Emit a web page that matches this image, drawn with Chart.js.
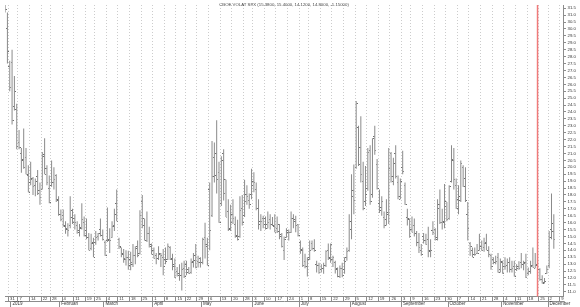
<!DOCTYPE html>
<html>
<head>
<meta charset="utf-8">
<script src="https://cdn.jsdelivr.net/npm/chart.js@4.4.1/dist/chart.umd.min.js"></script>
<style>
html, body { margin: 0; padding: 0; background: #fff; }
#wrap { width: 580px; height: 307px; position: relative; }
</style>
</head>
<body>
<div id="wrap"><canvas id="chart"></canvas></div>
<script>
// daily bars, index 0 = 2 Jan 2019 (first bar is 27 Dec 2018)
var firstIdx = -3

var opens = [
33.0, 30.0, 27.3, 27.6, 24.4, 24.2, 21.8, 21.0, 20.6, 20.7,
19.4, 18.9, 19.2, 18.7, 19.3, 18.3, 18.4, 20.9, 19.9, 18.5,
18.7, 18.9, 19.4, 17.6, 16.6, 16.5, 15.7, 15.5, 15.8, 16.9,
16.3, 15.8, 15.3, 15.6, 16.0, 15.4, 14.9, 14.1, 14.6, 14.6,
15.0, 15.5, 15.1, 14.6, 14.7, 14.8, 14.9, 15.8, 17.4, 14.8,
14.2, 13.7, 13.3, 13.5, 13.3, 13.0, 13.6, 14.3, 13.8, 17.5,
15.8, 14.7, 15.2, 14.3, 14.0, 13.6, 13.4, 13.8, 13.5, 13.3,
13.3, 14.2, 13.4, 12.8, 12.5, 12.2, 12.2, 12.7, 13.0, 12.6,
12.4, 13.2, 13.6, 13.2, 13.4, 13.1, 14.9, 14.3, 18.4, 16.5,
20.7, 21.0, 19.6, 17.4, 21.0, 19.1, 16.8, 15.6, 16.6, 15.9,
15.1, 15.0, 17.0, 16.5, 18.0, 17.6, 18.0, 19.0, 18.4, 17.0,
16.1, 16.3, 15.9, 15.6, 16.2, 15.9, 15.7, 15.6, 15.9, 15.0,
14.0, 14.9, 15.3, 15.3, 16.3, 16.1, 15.9, 14.6, 14.0, 13.2,
12.8, 13.5, 14.5, 14.1, 13.0, 12.9, 12.6, 12.7, 12.9, 14.0,
13.4, 13.3, 13.1, 12.7, 12.1, 12.7, 12.6, 13.5, 14.0, 15.5,
18.3, 20.0, 22.9, 21.4, 19.0, 17.5, 18.5, 21.2, 18.0, 22.2,
20.2, 17.4, 17.1, 16.4, 16.2, 16.6, 21.0, 19.0, 21.0, 18.9,
17.7, 20.0, 18.7, 16.4, 16.2, 15.5, 15.8, 15.2, 14.6, 14.0,
15.0, 14.7, 14.8, 13.9, 15.4, 15.5, 14.8, 17.3, 16.0, 16.0,
17.5, 16.3, 19.0, 20.5, 18.7, 17.7, 17.6, 20.0, 19.2, 16.6,
14.5, 14.0, 13.7, 13.8, 14.0, 14.3, 14.2, 14.6, 14.0, 13.6,
13.3, 13.1, 13.5, 12.6, 13.1, 12.8, 12.9, 13.1, 12.6, 12.8,
12.6, 12.8, 13.1, 13.0, 13.1, 12.3, 12.5, 12.9, 12.7, 13.0,
12.6, 11.9, 11.7, 12.3, 12.9, 15.5, 15.38
]

var highs = [
34.0, 31.2, 27.7, 28.5, 26.6, 24.6, 22.7, 21.4, 22.8, 21.4,
20.15, 20.4, 19.3, 19.2, 19.8, 18.9, 21.1, 22.1, 20.15, 19.4,
20.5, 20.0, 19.5, 17.9, 16.95, 16.95, 16.1, 15.96, 17.9, 17.0,
16.6, 16.1, 15.9, 17.4, 16.45, 16.3, 15.25, 15.2, 14.9, 15.4,
15.25, 16.3, 15.5, 14.7, 17.1, 15.6, 16.1, 17.0, 18.4, 14.9,
14.2, 14.1, 14.0, 13.97, 13.9, 14.46, 14.3, 14.7, 16.9, 18.0,
16.3, 16.8, 15.7, 14.5, 14.2, 13.8, 14.3, 13.8, 14.1, 14.2,
14.5, 14.3, 13.75, 13.4, 12.8, 13.0, 13.1, 13.25, 13.25, 12.8,
13.4, 13.8, 14.46, 13.6, 13.5, 14.9, 16.0, 14.9, 18.9, 21.9,
21.8, 23.4, 20.4, 20.8, 21.3, 19.1, 17.7, 17.3, 17.7, 16.45,
16.2, 17.9, 18.0, 19.1, 18.7, 18.1, 19.9, 19.65, 18.9, 17.7,
16.6, 16.5, 16.45, 16.8, 16.6, 16.4, 16.6, 16.45, 15.9, 15.25,
15.0, 15.6, 15.5, 16.8, 16.6, 16.5, 15.9, 14.7, 14.2, 13.75,
13.5, 14.7, 14.7, 14.8, 13.25, 13.1, 13.0, 13.1, 14.0, 14.5,
14.5, 13.6, 13.25, 12.76, 12.9, 13.1, 13.5, 14.2, 16.6, 19.5,
20.2, 24.8, 23.0, 23.7, 20.4, 20.1, 21.4, 21.6, 22.1, 23.0,
20.6, 18.4, 17.9, 16.8, 17.7, 21.4, 21.1, 20.7, 21.6, 19.4,
19.2, 21.2, 18.9, 17.0, 16.3, 16.45, 16.3, 15.4, 15.25, 14.46,
15.25, 15.2, 15.7, 14.8, 16.1, 15.6, 17.7, 18.4, 17.0, 18.8,
17.5, 18.7, 21.6, 21.4, 19.2, 18.7, 20.5, 20.15, 20.0, 17.5,
14.6, 14.2, 14.2, 14.46, 15.2, 14.7, 14.9, 15.2, 14.3, 13.75,
13.5, 13.6, 13.8, 13.4, 13.25, 13.5, 13.4, 13.5, 13.25, 13.25,
13.0, 13.2, 13.8, 13.25, 13.75, 12.76, 13.25, 14.2, 13.8, 13.4,
12.7, 12.2, 12.0, 12.9, 15.4, 18.1, 16.6
]

var lows = [
31.2, 27.5, 25.5, 23.1, 24.1, 21.3, 21.3, 19.6, 19.9, 19.5,
18.2, 18.7, 18.0, 17.9, 18.0, 17.3, 18.4, 19.5, 18.7, 17.4,
18.6, 18.4, 17.5, 16.5, 16.1, 15.7, 15.2, 15.0, 15.6, 15.9,
15.5, 15.2, 15.0, 15.5, 15.0, 14.8, 14.0, 14.0, 13.5, 14.4,
14.7, 15.0, 14.7, 13.6, 14.6, 13.8, 14.9, 15.4, 16.1, 14.1,
13.5, 13.1, 12.9, 12.6, 12.55, 12.8, 13.0, 13.5, 13.7, 15.6,
14.7, 14.6, 14.2, 13.7, 13.4, 13.0, 13.3, 12.8, 12.2, 13.0,
13.3, 13.3, 12.55, 12.0, 12.1, 11.8, 11.1, 12.0, 12.2, 12.3,
12.3, 12.76, 12.7, 12.76, 12.76, 13.0, 13.4, 12.9, 14.0, 16.4,
18.9, 18.1, 16.0, 17.2, 17.6, 16.4, 15.4, 15.4, 15.9, 14.9,
14.7, 14.9, 15.8, 16.4, 17.3, 17.0, 17.7, 18.2, 16.9, 15.5,
15.4, 15.6, 15.5, 15.6, 15.5, 15.75, 15.3, 15.25, 14.8, 14.2,
13.3, 14.9, 14.7, 15.25, 15.6, 15.3, 15.0, 13.75, 12.8, 12.7,
12.1, 13.3, 14.0, 13.9, 12.4, 12.3, 12.4, 12.3, 12.8, 13.3,
13.1, 12.8, 12.33, 12.05, 12.0, 12.05, 12.3, 13.25, 13.9, 14.8,
16.6, 19.9, 20.1, 18.9, 16.9, 17.2, 18.3, 17.3, 17.8, 20.9,
18.4, 16.7, 16.5, 15.6, 15.8, 15.9, 18.9, 18.7, 19.2, 17.7,
17.7, 19.5, 17.3, 15.8, 14.9, 15.3, 15.0, 14.3, 13.8, 13.6,
14.5, 14.4, 13.5, 13.5, 15.1, 14.7, 14.7, 15.9, 15.5, 15.6,
16.1, 16.2, 18.9, 18.4, 17.0, 16.6, 17.5, 18.6, 17.5, 14.7,
13.6, 13.5, 13.6, 13.75, 13.97, 13.97, 13.9, 14.0, 13.5, 12.6,
13.0, 13.0, 12.4, 12.4, 12.3, 12.6, 12.4, 12.4, 12.4, 12.1,
12.5, 12.6, 12.7, 12.55, 12.0, 12.2, 12.3, 12.76, 12.7, 12.5,
11.8, 11.6, 11.6, 12.3, 12.7, 14.8, 14.12
]

var closes = [
31.4, 28.4, 25.8, 23.4, 25.5, 21.5, 21.4, 20.5, 20.0, 19.5,
18.2, 19.1, 18.6, 19.0, 18.1, 17.8, 20.8, 19.5, 18.9, 17.45,
18.9, 19.1, 17.7, 16.6, 16.2, 15.8, 15.6, 15.4, 16.4, 16.0,
16.0, 15.4, 15.65, 16.2, 15.1, 14.9, 14.0, 14.5, 13.5, 14.9,
15.2, 15.1, 14.8, 13.6, 14.7, 14.7, 15.7, 16.6, 16.1, 14.3,
13.8, 13.4, 13.5, 12.9, 13.1, 13.6, 14.1, 13.6, 16.5, 16.3,
14.7, 15.2, 14.4, 13.7, 13.4, 13.4, 13.7, 13.6, 12.8, 13.2,
14.3, 13.3, 13.0, 12.0, 12.3, 12.2, 12.6, 12.1, 12.4, 12.3,
13.1, 13.25, 12.75, 13.1, 13.1, 14.8, 14.4, 12.9, 15.4, 19.3,
19.4, 19.1, 16.0, 20.5, 18.1, 16.4, 15.5, 16.0, 16.3, 15.0,
14.75, 16.9, 16.0, 17.5, 17.9, 17.3, 18.7, 18.9, 17.0, 15.9,
16.1, 16.3, 15.9, 16.0, 15.9, 15.8, 15.3, 15.35, 15.15, 14.3,
14.75, 15.4, 15.26, 16.28, 16.2, 15.8, 15.1, 14.06, 12.93, 12.8,
13.3, 14.0, 14.1, 14.0, 12.9, 12.4, 12.7, 12.9, 13.9, 13.5,
14.4, 13.5, 12.6, 12.1, 12.7, 12.2, 13.2, 13.9, 16.1, 17.9,
17.6, 24.6, 20.2, 19.5, 17.0, 18.0, 21.1, 17.5, 22.1, 21.2,
18.5, 16.9, 17.5, 15.8, 16.7, 19.9, 19.3, 20.3, 19.35, 17.9,
19.0, 19.7, 17.3, 16.3, 15.0, 15.3, 15.2, 14.6, 14.2, 13.7,
14.7, 14.4, 14.0, 13.95, 15.3, 14.9, 17.05, 16.0, 16.1, 17.2,
16.2, 18.6, 20.6, 19.1, 17.0, 17.9, 20.3, 18.6, 17.6, 15.6,
14.3, 13.5, 13.7, 13.8, 14.25, 14.0, 14.46, 14.0, 13.7, 12.8,
13.1, 13.2, 12.4, 13.2, 12.3, 12.8, 13.1, 12.6, 12.7, 12.1,
12.7, 12.7, 13.0, 13.05, 12.05, 12.46, 12.86, 12.78, 12.9, 12.6,
11.9, 11.6, 11.75, 12.6, 14.9, 15.96, 14.8
]

// first trading day of every week (bar index) and its day label
var weekIdx = [-1, 3, 8, 13, 17, 22, 27, 32, 36, 41, 46, 51, 56, 61, 66, 71, 75, 80, 85, 90,
  95, 100, 104, 109, 114, 119, 124, 128, 133, 138, 143, 148, 153, 158, 163, 168, 172, 177, 182, 187,
  192, 197, 202, 207, 212, 217, 222, 227, 231, 236]
var weekLabels = ['31', '7', '14', '22', '28', '4', '11', '19', '25', '4', '11', '18', '25', '1', '8', '15', '22', '29', '6', '13',
  '20', '28', '3', '10', '17', '24', '1', '8', '15', '22', '29', '5', '12', '19', '26', '3', '9', '16', '23', '30',
  '7', '14', '21', '28', '4', '11', '18', '25', '2', '9']

// first trading day of every month
var monthIdx = [0, 21, 40, 61, 82, 104, 124, 146, 168, 188, 211, 231]
var monthLabels = ['2019', 'Februari', 'March', 'April', 'May', 'June', 'July', 'August', 'September', 'October', 'November', 'December']

var markerIdx = 226
var titleText = 'CBOE VOLAT SPX (15.3800, 15.4000, 14.1200, 14.8000, -1.15000)'

var xMin = -3.04, xMax = 236.95
var yMin = 10.66, yMax = 31.735

var barColor = '#8a8a8a'
var tickColor = '#6e6e6e'
var fontFamily = 'Arial, "Liberation Sans", sans-serif'

// build chart.js data from the arrays
var rangeData = [], openData = [], closeData = []
for (var k = 0; k < highs.length; k++) {
    var i = firstIdx + k
    rangeData.push({x: i, y: [lows[k], highs[k]]})
    openData.push({x: i, y: opens[k]})
    closeData.push({x: i, y: closes[k]})
}

// little 1px ticks for open (left) and close (right)
function tickImage(side) {
    var c = document.createElement('canvas')
    c.width = 3
    c.height = 1
    var g = c.getContext('2d')
    g.fillStyle = tickColor
    g.fillRect(side == 'left' ? 0 : 2, 0, 1, 1)
    return c
}

var titlePlugin = {
    id: 'topTitle',
    afterDraw: function(chart) {
        var ctx = chart.ctx
        var area = chart.chartArea
        ctx.save()
        ctx.font = '4.3px ' + fontFamily
        ctx.fillStyle = '#444'
        ctx.textAlign = 'center'
        ctx.textBaseline = 'middle'
        ctx.fillText(titleText, (area.left + area.right) / 2, 4.5)
        ctx.restore()
    }
}

function noPadX(s) {
    s.paddingLeft = 0
    s.paddingRight = 0
}

var chart = new Chart(document.getElementById('chart'), {
    type: 'bar',
    data: {
        datasets: [
            {
                type: 'line',
                data: [{x: markerIdx, y: 5}, {x: markerIdx, y: 40}],
                borderColor: '#f07a7a',
                borderWidth: 1.5,
                pointRadius: 0,
                order: 0
            },
            {
                type: 'line',
                data: openData,
                showLine: false,
                pointStyle: tickImage('left'),
                pointRadius: 1,
                order: 1
            },
            {
                type: 'line',
                data: closeData,
                showLine: false,
                pointStyle: tickImage('right'),
                pointRadius: 1,
                order: 1
            },
            {
                type: 'bar',
                data: rangeData,
                backgroundColor: barColor,
                borderWidth: 0,
                barThickness: 1,
                inflateAmount: 0,
                grouped: false,
                order: 2
            }
        ]
    },
    options: {
        responsive: true,
        maintainAspectRatio: false,
        animation: false,
        events: [],
        layout: {padding: 0},
        plugins: {
            legend: {display: false},
            tooltip: {enabled: false}
        },
        scales: {
            x: {
                type: 'linear',
                position: 'bottom',
                weight: 0,
                offset: false,
                min: xMin,
                max: xMax,
                afterBuildTicks: function(s) {
                    s.ticks = weekIdx.map(function(v) { return {value: v - 0.5} })
                },
                afterFit: function(s) {
                    s.height = 4.5
                    noPadX(s)
                },
                ticks: {
                    autoSkip: false,
                    maxRotation: 0,
                    align: 'start',
                    labelOffset: 1.5,
                    padding: -4.5,
                    color: '#333',
                    font: {size: 4.2, family: fontFamily},
                    callback: function(v, idx) { return weekLabels[idx] }
                },
                grid: {
                    offset: false,
                    color: '#cccccc',
                    tickColor: '#8c8c8c',
                    tickLength: 4.5,
                    lineWidth: 1
                },
                border: {display: true, color: '#8c8c8c', dash: [1, 2]}
            },
            x2: {
                type: 'linear',
                position: 'bottom',
                weight: 1,
                offset: false,
                min: xMin,
                max: xMax,
                afterBuildTicks: function(s) {
                    s.ticks = monthIdx.map(function(v) { return {value: v - 0.5} })
                },
                afterFit: function(s) {
                    s.height = 6
                    noPadX(s)
                },
                ticks: {
                    autoSkip: false,
                    maxRotation: 0,
                    align: 'start',
                    labelOffset: 1.5,
                    padding: -6,
                    color: '#333',
                    font: {size: 4.5, family: fontFamily},
                    callback: function(v, idx) { return monthLabels[idx] }
                },
                grid: {
                    offset: false,
                    drawOnChartArea: false,
                    tickColor: '#8c8c8c',
                    tickLength: 6
                },
                border: {display: true, color: '#8c8c8c'}
            },
            y: {
                type: 'linear',
                position: 'right',
                min: yMin,
                max: yMax,
                afterFit: function(s) {
                    s.width = 17
                    s.paddingTop = 0
                    s.paddingBottom = 0
                },
                ticks: {
                    stepSize: 0.5,
                    includeBounds: false,
                    autoSkip: false,
                    padding: 1.5,
                    color: '#333',
                    font: {size: 4.3, family: fontFamily},
                    callback: function(v) { return v.toFixed(1) }
                },
                grid: {
                    drawOnChartArea: false,
                    tickColor: '#8c8c8c',
                    tickLength: 3
                },
                border: {display: true, color: '#8c8c8c'}
            }
        }
    },
    plugins: [titlePlugin]
})
</script>
</body>
</html>
